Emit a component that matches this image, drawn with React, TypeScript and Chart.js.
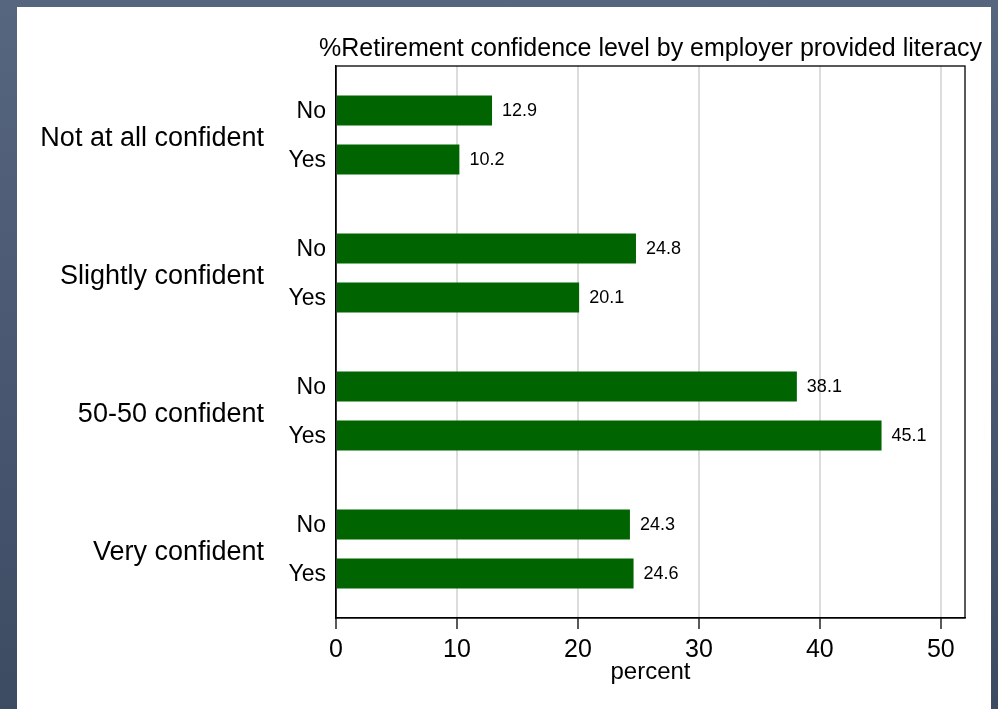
import { useEffect, useRef } from "react";
import { Chart, registerables } from "chart.js";

Chart.register(...registerables);

const groups = ["Not at all confident", "Slightly confident", "50-50 confident", "Very confident"];
const seriesLabels = ["No", "Yes"];
const noValues = [12.9, 24.8, 38.1, 24.3];
const yesValues = [10.2, 20.1, 45.1, 24.6];
const xTicks = [0, 10, 20, 30, 40, 50];
const chartTitle = "%Retirement confidence level by employer provided literacy";
const xTitle = "percent";

const FONT = "'Liberation Sans', Arial, Helvetica, sans-serif";
const BAR_COLOR = "#006400";

export default function App() {
  const ref = useRef<HTMLCanvasElement | null>(null);

  useEffect(() => {
    if (!ref.current) return;

    const annotate = {
      id: "annotate",
      afterDatasetsDraw(chart: any) {
        const { ctx, chartArea } = chart;
        ctx.save();
        // frame
        ctx.strokeStyle = "#000";
        ctx.lineWidth = 1.3;
        ctx.strokeRect(chartArea.left, chartArea.top, chartArea.right - chartArea.left, chartArea.bottom - chartArea.top);
        // bar labels
        chart.data.datasets.forEach((ds: any, i: number) => {
          const meta = chart.getDatasetMeta(i);
          meta.data.forEach((el: any, j: number) => {
            ctx.fillStyle = "#000";
            ctx.textBaseline = "middle";
            ctx.font = `23px ${FONT}`;
            ctx.textAlign = "right";
            ctx.fillText(seriesLabels[i], chartArea.left - 10, el.y + 1);
            ctx.font = `18px ${FONT}`;
            ctx.textAlign = "left";
            ctx.fillText(String(ds.data[j]), el.x + 10, el.y + 1);
          });
        });
        // title
        ctx.font = `25px ${FONT}`;
        ctx.textAlign = "center";
        ctx.textBaseline = "middle";
        ctx.fillStyle = "#000";
        ctx.fillText(chartTitle, (chartArea.left + chartArea.right) / 2, 49);
        ctx.restore();
      },
    };

    const chart = new Chart(ref.current, {
      type: "bar",
      data: {
        labels: groups,
        datasets: [
          { label: seriesLabels[0], data: noValues, backgroundColor: BAR_COLOR, categoryPercentage: 0.71, barPercentage: 0.612 },
          { label: seriesLabels[1], data: yesValues, backgroundColor: BAR_COLOR, categoryPercentage: 0.71, barPercentage: 0.612 },
        ],
      },
      options: {
        indexAxis: "y",
        responsive: false,
        animation: false,
        layout: { padding: { top: 66, right: 33, left: 0, bottom: 0 } },
        plugins: { legend: { display: false }, tooltip: { enabled: false }, title: { display: false } },
        scales: {
          x: {
            type: "linear",
            min: 0,
            max: 52,
            afterBuildTicks: (scale: any) => {
              scale.ticks = xTicks.map((v) => ({ value: v }));
            },
            afterFit: (scale: any) => {
              scale.height = 91;
            },
            grid: { color: "#dcdcdc", lineWidth: 2, tickColor: "#000", tickLength: 11, tickWidth: 1.3 },
            border: { display: true, color: "#000", width: 1.3 },
            ticks: { color: "#000", font: { family: FONT, size: 25 }, padding: 6, maxRotation: 0 },
            title: {
              display: true,
              text: xTitle,
              color: "#000",
              font: { family: FONT, size: 24 },
              padding: { top: 0, bottom: 22 },
            },
          },
          y: {
            type: "category",
            afterFit: (scale: any) => {
              scale.width = 336;
              scale.paddingTop = 0;
              scale.paddingBottom = 0;
            },
            grid: { display: false, drawTicks: false, tickLength: 0 },
            border: { display: true, color: "#000", width: 1.3 },
            ticks: { color: "#000", font: { family: FONT, size: 27 }, padding: 72, labelOffset: 4 },
          },
        },
      },
      plugins: [annotate],
    } as any);

    return () => chart.destroy();
  }, []);

  return (
    <div
      style={{
        position: "fixed",
        left: 0,
        top: 0,
        width: 998,
        height: 709,
        background: "linear-gradient(to bottom, #57667f, #3c4a62)",
        overflow: "hidden",
      }}
    >
      <div style={{ position: "absolute", left: 17, top: 7, width: 974, height: 702, background: "#fff" }} />
      <canvas ref={ref} width={998} height={709} style={{ position: "absolute", left: 0, top: 0 }} />
    </div>
  );
}
